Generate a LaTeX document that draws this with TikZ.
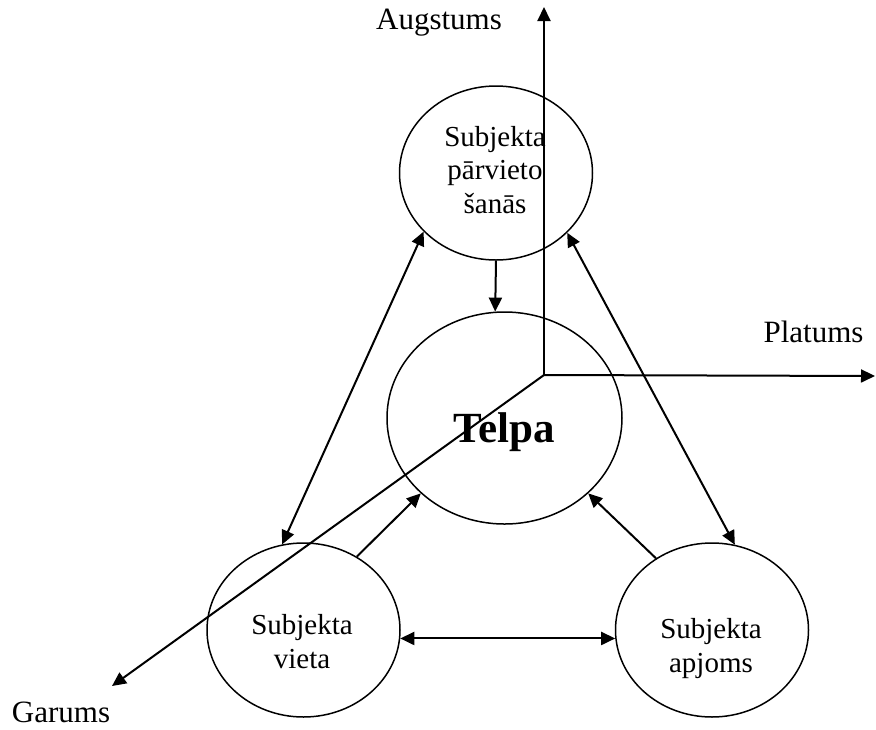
\documentclass[tikz,border=0pt]{standalone}
\usepackage{fontspec}
\setmainfont{Liberation Serif}
\usetikzlibrary{shapes.geometric,arrows.meta}
\begin{document}
\begin{tikzpicture}[x=1pt,y=-1pt,
  oval/.style={ellipse,draw,line width=1.5pt,inner sep=0pt},
  smalloval/.style={oval,minimum width=193pt,minimum height=174pt},
  bigoval/.style={oval,minimum width=235pt,minimum height=212pt},
  ovaltext/.style={align=center,anchor=base,font=\fontsize{29pt}{33.5pt}\selectfont},
  axislabel/.style={anchor=base,font=\fontsize{31pt}{35pt}\selectfont},
  onehead/.style={-{Triangle[length=14pt,width=13pt]}},
  twoheads/.style={{Triangle[length=14pt,width=13pt]}-{Triangle[length=14pt,width=13pt]}},
  link/.style={line width=2pt}]
\useasboundingbox (0,0) rectangle (876,729);

% ellipses
\node[smalloval] (move) at (496,173) {};
\node[bigoval] (space) at (504.5,418) {};
\node[smalloval] (place) at (303.5,630) {};
\node[smalloval] (volume) at (712,630) {};

% texts inside the ellipses (base = baseline of the last line)
\node[ovaltext] (movetext) at (495,213) {Subjekta\\pārvieto\\šanās};
\node[ovaltext] (placetext) at (302,668) {Subjekta\\vieta};
\node[ovaltext] (volumetext) at (711,672) {Subjekta\\apjoms};
\node[anchor=base,font=\bfseries\fontsize{43pt}{45pt}\selectfont] (spacetext) at (504.5,442) {Telpa};

% coordinate axes
\coordinate (O) at (544,375);
\coordinate (zend) at (544,7);
\coordinate (xend) at (875,376);
\coordinate (yend) at (112,686);
\draw[link,onehead] (O) -- (zend);
\draw[link,onehead] (O) -- (xend);
\draw[link,onehead] (O) -- (yend);
\node[axislabel] (zlabel) at (439,29) {Augstums};
\node[axislabel] (xlabel) at (813.5,342) {Platums};
\node[axislabel] (ylabel) at (61,722) {Garums};

% relations
\draw[link,twoheads] (move.219) -- (place.104);
\draw[link,twoheads] (move.320) -- (volume.75);
\draw[link,onehead] (move.-90) -- (space.95);
\draw[link,onehead] (place.54) -- (space.222);
\draw[link,onehead] (volume.128) -- (space.318);
\draw[link,twoheads] (place.-5) -- (volume.185);
\end{tikzpicture}
\end{document}
